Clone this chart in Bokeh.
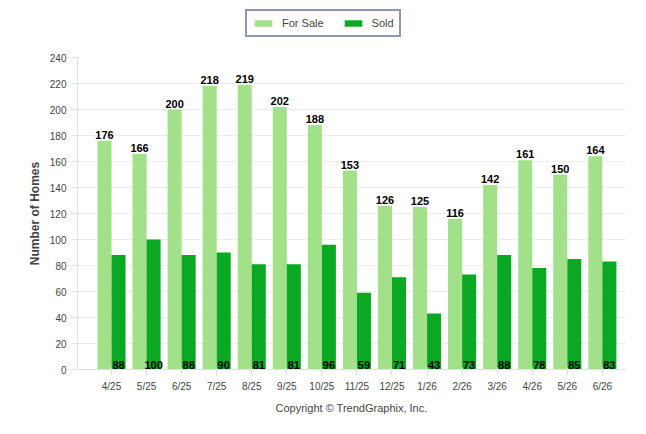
from bokeh.plotting import figure
from bokeh.layouts import column
from bokeh.models import ColumnDataSource, LabelSet, Legend, LegendItem, Title, FixedTicker
from bokeh.core.properties import value
from bokeh.embed import file_html
from bokeh.resources import INLINE

months = ["4/25","5/25","6/25","7/25","8/25","9/25","10/25","11/25","12/25","1/26","2/26","3/26","4/26","5/26","6/26"]
for_sale = [176,166,200,218,219,202,188,153,126,125,116,142,161,150,164]
sold = [88,100,88,90,81,81,96,59,71,43,73,88,78,85,83]
C_SALE = "#a2e08a"
C_SOLD = "#0aa823"
FONT = "Liberation Sans"

idx = list(range(len(months)))
src = ColumnDataSource(dict(
    xs=[i - 0.2 for i in idx], xd=[i + 0.2 for i in idx], fs=for_sale, sd=sold,
    fst=[str(v) for v in for_sale], sdt=[str(v) for v in sold], base=[0]*len(idx)))

# legend strip
lf = figure(width=630, height=42, output_backend="svg", toolbar_location=None,
            x_range=(0, 1), y_range=(0, 1), min_border=0)
lf.axis.visible = False
lf.grid.visible = False
lf.outline_line_color = None
d1 = lf.vbar(x=[5], top=[5], bottom=[4], width=0.1, fill_color=C_SALE, line_color=None)
d2 = lf.vbar(x=[5], top=[5], bottom=[4], width=0.1, fill_color=C_SOLD, line_color=None)
leg = Legend(items=[LegendItem(label="For Sale", renderers=[d1]), LegendItem(label="Sold", renderers=[d2])],
             orientation="horizontal", location=(168, 5), border_line_color="#1f2f5f",
             border_line_width=2, label_text_font_size="11px", label_text_font=FONT,
             glyph_width=22, glyph_height=8, padding=5, spacing=18, margin=0,
             label_standoff=8, label_height=14)
lf.add_layout(leg, "center")

p = figure(width=630, height=376, output_backend="svg", toolbar_location=None,
           x_range=(-0.97, 14.66), y_range=(0, 240),
           min_border_left=77, min_border_top=15, min_border_right=5, min_border_bottom=20)
p.outline_line_color = None
p.vbar(x="xs", top="fs", width=0.4, source=src, fill_color=C_SALE, line_color=None)
p.vbar(x="xd", top="sd", width=0.4, source=src, fill_color=C_SOLD, line_color=None)

p.add_layout(LabelSet(x="xs", y="fs", text="fst", source=src, text_align="center", y_offset=2,
                      text_font_size=value("11px"), text_font_style=value("bold"), text_color=value("black"),
                      text_font=value(FONT)))
p.add_layout(LabelSet(x="xd", y="base", text="sdt", source=src, text_align="center", y_offset=1,
                      text_font_size=value("11px"), text_font_style=value("bold"), text_color=value("black"),
                      text_font=value(FONT)))

p.xaxis.ticker = FixedTicker(ticks=idx)
p.xaxis.major_label_overrides = {i: m for i, m in enumerate(months)}
p.yaxis.ticker = FixedTicker(ticks=list(range(0, 241, 20)))
p.xgrid.grid_line_color = None
p.ygrid.grid_line_color = "#ececec"
for ax in (p.xaxis, p.yaxis):
    ax.axis_line_color = "#e0e0e0"
    ax.major_tick_line_color = "#e0e0e0"
    ax.minor_tick_line_color = None
    ax.major_label_text_font_size = "10px"
    ax.major_label_text_color = "#444444"
    ax.major_label_text_font = FONT
p.yaxis.axis_label = "Number of Homes"
p.yaxis.axis_label_text_font_size = "12px"
p.yaxis.axis_label_text_font_style = "bold"
p.yaxis.axis_label_text_color = "#444444"
p.yaxis.axis_label_text_font = FONT

p.add_layout(Title(text="Copyright \u00a9 TrendGraphix, Inc.", align="center", text_font_size="11px",
                   text_font_style="normal", text_color="#444444", text_font=FONT), "below")

open("out.html", "w").write(file_html(column(lf, p), INLINE))
